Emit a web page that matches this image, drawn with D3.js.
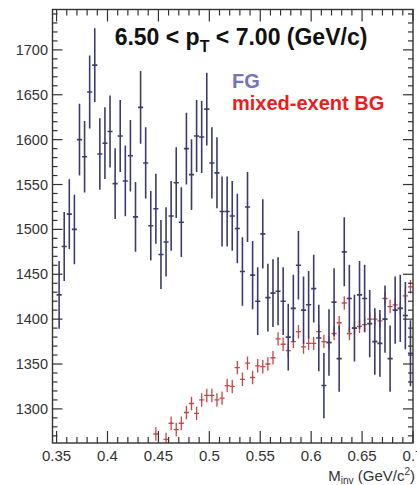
<!DOCTYPE html>
<html>
<head>
<meta charset="utf-8">
<script src="https://cdn.jsdelivr.net/npm/d3@7/dist/d3.min.js"></script>
<style>
  html, body { margin: 0; padding: 0; background: #fff; }
  svg { display: block; }
  text { font-family: "Liberation Sans", Arial, Helvetica, sans-serif; }
</style>
</head>
<body>
<svg id="chart" width="417" height="485"></svg>
<script>
// Invariant-mass histogram, 5 MeV/c^2 bins from 0.350 to 0.700 GeV/c^2
const binLowEdge = 0.350;
const binWidth = 0.005;
const nBins = 70;

// Foreground (same-event) counts per bin
const fgCounts = [
  1427, 1481, 1517, 1500, 1600, 1581, 1653, 1683, 1584, 1596,
  1609, 1551, 1604, 1554, 1582, 1514, 1636, 1574, 1504, 1523,
  1472, 1486, 1515, 1552, 1508, 1590, 1561, 1604, 1603, 1634,
  1574, 1563, 1520, 1520, 1515, 1501, 1453, 1525, 1449, 1420,
  1495, 1424, 1429, 1431, 1420, 1380, 1412, 1460, 1410, 1416,
  1434, 1379, 1326, 1374, 1419, 1356, 1475, 1423, 1390, 1427,
  1423, 1395, 1375, 1373, 1400, 1356, 1410, 1412, 1404, 1362
];

// Normalised mixed-event background per bin (null = below the visible range)
const bgCounts = [
  null, null, null, null, null, null, null, null, null, null,
  null, null, null, null, null, null, null, null, null, 1272,
  null, 1266, 1284, 1277, 1284, 1296, 1306, 1295, 1310, 1315,
  1315, 1310, 1312, 1326, 1325, 1346, 1333, 1351, 1335, 1348,
  1347, 1350, 1357, 1378, 1372, 1365, 1375, 1386, 1369, 1373,
  1373, 1386, 1375, 1374, 1384, 1396, 1418, 1384, 1390, 1392,
  1394, 1400, 1400, 1398, 1423, 1414, 1416, 1412, 1426, 1436
];
const bgError = 7.5;

const xTicks = [0.35, 0.40, 0.45, 0.50, 0.55, 0.60, 0.65, 0.70];
const xTickLabels = ["0.35", "0.4", "0.45", "0.5", "0.55", "0.6", "0.65", "0.7"];
const yTicks = [1300, 1350, 1400, 1450, 1500, 1550, 1600, 1650, 1700];

const legendItems = [
  { label: "FG", color: "#7474b6" },
  { label: "mixed-exent BG", color: "#ee1c1c" }
];

const fgColor = "#3c3c6c";
const bgColor = "#c94646";
const axisColor = "#333";

const frame = { left: 52.5, right: 413, top: 9.5, bottom: 443 };

const svg = d3.select("#chart");

const x = d3.scaleLinear().domain([0.346, 0.700]).range([frame.left, frame.right]);
const y = d3.scaleLinear().domain([1262, 1745]).range([frame.bottom, frame.top]);

const bins = d3.range(nBins).map(i => binLowEdge + i * binWidth);

const fgData = bins.map((lo, i) => ({ lo, hi: lo + binWidth, v: fgCounts[i], e: Math.sqrt(fgCounts[i]) }));
const bgData = bins.map((lo, i) => ({ lo, hi: lo + binWidth, v: bgCounts[i], e: bgError }))
  .filter(d => d.v !== null);

svg.append("defs").append("clipPath").attr("id", "plotClip")
  .append("rect")
  .attr("x", frame.left).attr("y", frame.top)
  .attr("width", frame.right - frame.left).attr("height", frame.bottom - frame.top);

const plot = svg.append("g").attr("clip-path", "url(#plotClip)");

function drawErrorBars(data, color, width, cls) {
  const g = plot.append("g").attr("class", cls)
    .attr("stroke", color).attr("stroke-width", width).attr("fill", "none");
  g.selectAll("line.v").data(data).join("line").attr("class", "v")
    .attr("x1", d => x((d.lo + d.hi) / 2)).attr("x2", d => x((d.lo + d.hi) / 2))
    .attr("y1", d => y(d.v - d.e)).attr("y2", d => y(d.v + d.e));
  g.selectAll("line.h").data(data).join("line").attr("class", "h")
    .attr("x1", d => x(d.lo)).attr("x2", d => x(d.hi))
    .attr("y1", d => y(d.v)).attr("y2", d => y(d.v));
}

drawErrorBars(bgData, bgColor, 1.3, "bg");
drawErrorBars(fgData, fgColor, 1.6, "fg");

// Axes: ticks on all four sides pointing inward, ROOT style
const xMinor = d3.range(35, 71).map(k => k / 100);
const yMinor = d3.range(1270, 1741, 10);

const axes = svg.append("g").attr("stroke", axisColor).attr("stroke-width", 1.2);

// bottom & top x ticks
axes.selectAll("line.xb").data(xMinor).join("line").attr("class", "xb")
  .attr("x1", d => x(d)).attr("x2", d => x(d))
  .attr("y1", frame.bottom)
  .attr("y2", d => frame.bottom - (Math.round(d * 100) % 5 === 0 ? 12 : 6));
axes.selectAll("line.xt").data(xMinor).join("line").attr("class", "xt")
  .attr("x1", d => x(d)).attr("x2", d => x(d))
  .attr("y1", frame.top)
  .attr("y2", d => frame.top + (Math.round(d * 100) % 5 === 0 ? 12 : 6));
// left & right y ticks
axes.selectAll("line.yl").data(yMinor).join("line").attr("class", "yl")
  .attr("y1", d => y(d)).attr("y2", d => y(d))
  .attr("x1", frame.left)
  .attr("x2", d => frame.left + (d % 50 === 0 ? 10 : 5));
axes.selectAll("line.yr").data(yMinor).join("line").attr("class", "yr")
  .attr("y1", d => y(d)).attr("y2", d => y(d))
  .attr("x1", frame.right)
  .attr("x2", d => frame.right - (d % 50 === 0 ? 10 : 5));

svg.append("rect")
  .attr("x", frame.left).attr("y", frame.top)
  .attr("width", frame.right - frame.left).attr("height", frame.bottom - frame.top)
  .attr("fill", "none").attr("stroke", axisColor).attr("stroke-width", 1.4);

// Tick labels
svg.append("g").selectAll("text").data(xTicks).join("text")
  .attr("x", d => x(d)).attr("y", 461)
  .attr("text-anchor", "middle")
  .attr("font-size", 15).attr("fill", axisColor)
  .text((d, i) => xTickLabels[i]);

svg.append("g").selectAll("text").data(yTicks).join("text")
  .attr("x", 48).attr("y", d => y(d) + 5)
  .attr("text-anchor", "end")
  .attr("font-size", 14.5).attr("fill", axisColor)
  .text(d => d);

// Axis title
const xt = svg.append("text").attr("x", 415).attr("y", 481)
  .attr("text-anchor", "end").attr("font-size", 15).attr("fill", axisColor);
xt.append("tspan").text("M");
xt.append("tspan").attr("font-size", 10).attr("dy", 3).text("inv");
xt.append("tspan").attr("dy", -3).text(" (GeV/c");
xt.append("tspan").attr("font-size", 10).attr("dy", -6).text("2");
xt.append("tspan").attr("dy", 6).text(")");

// Title
const title = svg.append("text").attr("x", 241).attr("y", 45)
  .attr("text-anchor", "middle").attr("font-size", 23)
  .attr("font-weight", "bold").attr("fill", "#111");
title.append("tspan").text("6.50 < p");
title.append("tspan").attr("font-size", 16).attr("dy", 7).text("T");
title.append("tspan").attr("dy", -7).text(" < 7.00 (GeV/c)");

// Legend
svg.append("g").selectAll("text").data(legendItems).join("text")
  .attr("x", 232).attr("y", (d, i) => 88 + i * 22)
  .attr("font-size", 20).attr("font-weight", "bold")
  .attr("fill", d => d.color)
  .text(d => d.label);
</script>
</body>
</html>
